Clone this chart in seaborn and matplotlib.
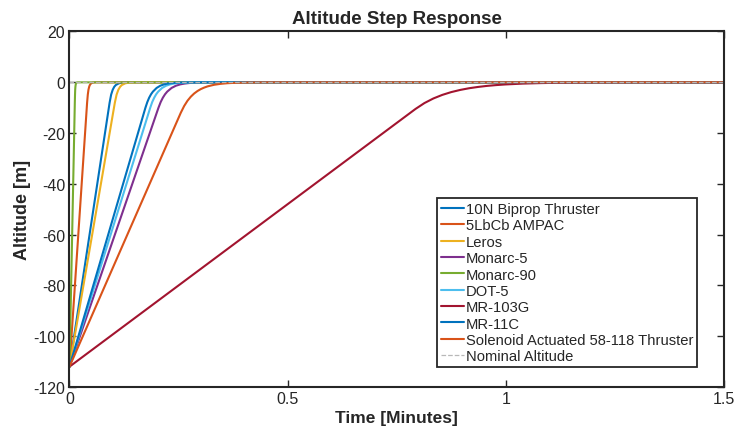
import matplotlib
matplotlib.use("Agg")
import matplotlib.pyplot as plt
import seaborn as sns
import pandas as pd

# Thruster altitude step responses: time [min] and altitude [m] sampled along each trace
thrusters = [
    "10N Biprop Thruster", "5LbCb AMPAC", "Leros", "Monarc-5", "Monarc-90",
    "DOT-5", "MR-103G", "MR-11C", "Solenoid Actuated 58-118 Thruster",
]
colors = ["#0072BD", "#D95319", "#EDB120", "#7E2F8E", "#77AC30",
          "#4DBEEE", "#A2142F", "#0072BD", "#D95319"]

t_biprop = [0, 0.0920, 0.0955, 0.0991, 0.1026, 0.1062, 0.1133, 0.1204, 0.134, 1.5]
h_biprop = [-112, -8, -4.85, -2.94, -1.78, -1.08, -0.40, -0.15, -0.02, 0]

t_ampac = [0, 0.0404, 0.0420, 0.0435, 0.0451, 0.0466, 0.0497, 0.0528, 0.059, 1.5]
h_ampac = [-112, -8, -4.85, -2.94, -1.78, -1.08, -0.40, -0.15, -0.02, 0]

t_leros = [0, 0.104, 0.108, 0.112, 0.116, 0.120, 0.128, 0.136, 0.152, 1.5]
h_leros = [-112, -8, -4.85, -2.94, -1.78, -1.08, -0.40, -0.15, -0.02, 0]

t_monarc5 = [0, 0.204, 0.209, 0.214, 0.219, 0.224, 0.234, 0.244, 0.254, 0.264,
             0.274, 0.284, 0.304, 0.35, 1.5]
h_monarc5 = [-112, -10, -7.79, -6.07, -4.72, -3.68, -2.23, -1.35, -0.82, -0.50,
             -0.30, -0.18, -0.07, -0.01, 0]

t_monarc90 = [0, 0.01224, 0.0127, 0.0131, 0.0136, 0.0141, 0.0150, 0.0160, 0.018, 1.5]
h_monarc90 = [-112, -8, -4.85, -2.94, -1.78, -1.08, -0.40, -0.15, -0.02, 0]

t_dot5 = [0, 0.1851, 0.1896, 0.1942, 0.1987, 0.2033, 0.2123, 0.2214, 0.2305,
          0.2396, 0.2487, 0.2577, 0.2759, 0.32, 1.5]
h_dot5 = [-112, -10, -7.79, -6.07, -4.72, -3.68, -2.23, -1.35, -0.82,
          -0.50, -0.30, -0.18, -0.07, -0.01, 0]

t_mr103g = [0, 0.793, 0.8135, 0.834, 0.8545, 0.875, 0.8955, 0.916, 0.9365, 0.957,
            0.9775, 0.998, 1.039, 1.080, 1.121, 1.162, 1.203, 1.25, 1.30, 1.5]
h_mr103g = [-112, -10.5, -8.18, -6.37, -4.96, -3.86, -3.01, -2.34, -1.83, -1.42,
            -1.11, -0.86, -0.52, -0.32, -0.19, -0.12, -0.07, -0.035, -0.01, 0]

t_mr11c = [0, 0.1741, 0.1784, 0.1826, 0.1869, 0.1912, 0.1997, 0.2082, 0.2168,
           0.2253, 0.2338, 0.2424, 0.26, 0.30, 1.5]
h_mr11c = [-112, -10, -7.79, -6.07, -4.72, -3.68, -2.23, -1.35, -0.82,
           -0.50, -0.30, -0.18, -0.07, -0.01, 0]

t_solenoid = [0, 0.2551, 0.2628, 0.2704, 0.2781, 0.2857, 0.2934, 0.3010, 0.3087,
              0.3163, 0.3316, 0.3469, 0.3622, 0.3775, 0.4081, 0.46, 1.5]
h_solenoid = [-112, -12, -9.35, -7.28, -5.67, -4.42, -3.44, -2.68, -2.09,
              -1.62, -0.98, -0.60, -0.36, -0.22, -0.08, -0.01, 0]

t_nominal = [0, 1.5]
h_nominal = [0, 0]

series_t = [t_biprop, t_ampac, t_leros, t_monarc5, t_monarc90,
            t_dot5, t_mr103g, t_mr11c, t_solenoid]
series_h = [h_biprop, h_ampac, h_leros, h_monarc5, h_monarc90,
            h_dot5, h_mr103g, h_mr11c, h_solenoid]

xticks = [0, 0.5, 1, 1.5]
xticklabels = ["0", "0.5", "1", "1.5"]
yticks = [-120, -100, -80, -60, -40, -20, 0, 20]

sns.set_theme(style="white")
ink = "#262626"
plt.rcParams.update({
    "font.family": ["Liberation Sans", "DejaVu Sans"],
    "axes.unicode_minus": False,
    "xtick.direction": "in",
    "ytick.direction": "in",
    "axes.edgecolor": ink,
    "xtick.color": ink,
    "ytick.color": ink,
    "axes.labelcolor": ink,
    "text.color": ink,
})

fig = plt.figure(figsize=(7.36, 4.31), dpi=100)
ax = fig.add_axes([0.0944, 0.0998, 0.8893, 0.8248])

for name, col, tt, hh in zip(thrusters, colors, series_t, series_h):
    df = pd.DataFrame({"t": tt, "h": hh})
    sns.lineplot(data=df, x="t", y="h", color=col, linewidth=1.5,
                 label=name, sort=False, estimator=None, ax=ax)

nom = pd.DataFrame({"t": t_nominal, "h": h_nominal})
sns.lineplot(data=nom, x="t", y="h", color="#b8b8b8", linewidth=0.9,
             linestyle="--", label="Nominal Altitude", sort=False,
             estimator=None, ax=ax)

ax.set_xlim(0, 1.5)
ax.set_ylim(-120, 20)
ax.set_xticks(xticks)
ax.set_xticklabels(xticklabels)
ax.set_yticks(yticks)
ax.tick_params(axis="both", which="both", labelsize=11.5, length=5, width=1,
               top=True, right=True, bottom=True, left=True, pad=3)
for sp in ax.spines.values():
    sp.set_linewidth(1.5)
    sp.set_color(ink)

ax.set_title("Altitude Step Response", fontsize=13.5, fontweight="bold", pad=6)
ax.set_xlabel("Time [Minutes]", fontsize=12.5, fontweight="bold", labelpad=3)
ax.set_ylabel("Altitude [m]", fontsize=13, fontweight="bold", labelpad=2)

leg = ax.legend(loc="lower right", bbox_to_anchor=(0.9588, 0.0563),
                borderaxespad=0, fontsize=10.6, frameon=True, fancybox=False,
                framealpha=1, handlelength=1.6, handletextpad=0.1,
                labelspacing=0.16, borderpad=0.25)
leg.get_frame().set_edgecolor(ink)
leg.get_frame().set_linewidth(1.3)

fig.savefig("out.png", dpi=100)
